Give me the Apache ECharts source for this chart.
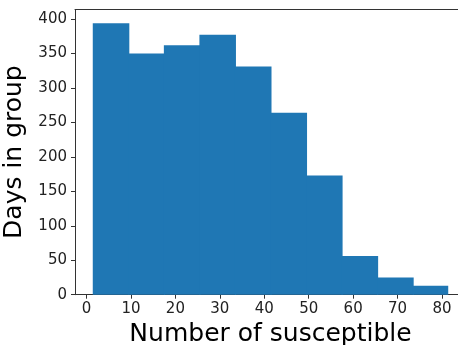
<!DOCTYPE html>
<html>
<head>
<meta charset="utf-8">
<script src="https://cdn.jsdelivr.net/npm/echarts@6/dist/echarts.min.js"></script>
<style>
  html, body { margin: 0; padding: 0; background: #ffffff; }
  #chart { width: 458px; height: 345px; }
</style>
</head>
<body>
<div id="chart"></div>
<script>
// Histogram bins: left/right edges and counts of days per bin
const binLeft  = [1.4, 9.4, 17.4, 25.4, 33.4, 41.4, 49.4, 57.4, 65.4, 73.4];
const binRight = [9.4, 17.4, 25.4, 33.4, 41.4, 49.4, 57.4, 65.4, 73.4, 81.4];
const daysInGroup = [394, 350, 362, 377, 331, 264, 173, 56, 25, 13];

const xTicks = [0, 10, 20, 30, 40, 50, 60, 70, 80];
const yTicks = [0, 50, 100, 150, 200, 250, 300, 350, 400];

const xTitle = 'Number of susceptible';
const yTitle = 'Days in group';

const barColor = '#1f77b4';
const axisColor = '#333333';
const font = 'DejaVu Sans';

const histData = binLeft.map((l, i) => [l, binRight[i], daysInGroup[i]]);

const chart = echarts.init(document.getElementById('chart'), null, { renderer: 'canvas' });

chart.setOption({
  animation: false,
  backgroundColor: '#ffffff',
  grid: { left: 75, top: 9.5, right: -8, bottom: 50.3, containLabel: false, outerBoundsMode: 'none' },
  xAxis: [{
    type: 'value',
    min: -2.6,
    max: 85.4,
    splitLine: { show: false },
    axisLine: { show: true, onZero: false, lineStyle: { color: axisColor, width: 1 } },
    axisTick: { show: true, length: 4, customValues: xTicks, lineStyle: { color: axisColor } },
    axisLabel: { customValues: xTicks, margin: 7, color: '#222', fontFamily: font, fontSize: 15 },
    name: xTitle,
    nameLocation: 'middle',
    nameGap: 22,
    nameTextStyle: { fontFamily: font, fontSize: 25, color: '#000', verticalAlign: 'top' }
  }, {
    type: 'value',
    position: 'top',
    min: -2.6,
    max: 85.4,
    splitLine: { show: false },
    axisLine: { show: true, onZero: false, lineStyle: { color: axisColor, width: 1 } },
    axisTick: { show: false },
    axisLabel: { show: false }
  }],
  yAxis: {
    type: 'value',
    min: 0,
    max: 413.8,
    splitLine: { show: false },
    axisLine: { show: true, onZero: false, lineStyle: { color: axisColor, width: 1 } },
    axisTick: { show: true, length: 4, customValues: yTicks, lineStyle: { color: axisColor } },
    axisLabel: { customValues: yTicks, margin: 8, color: '#222', fontFamily: font, fontSize: 15 },
    name: yTitle,
    nameLocation: 'middle',
    nameGap: 44,
    nameTextStyle: { fontFamily: font, fontSize: 25, color: '#000' }
  },
  series: [{
    type: 'custom',
    xAxisIndex: 0,
    data: histData,
    encode: { x: [0, 1], y: 2 },
    renderItem: function (params, api) {
      const p0 = api.coord([api.value(0), 0]);
      const p1 = api.coord([api.value(1), api.value(2)]);
      // overlap neighbours slightly so adjacent bins join without a seam
      const isLast = params.dataIndex === params.dataInsideLength - 1;
      const overlap = isLast ? 0 : 1;
      return {
        type: 'rect',
        shape: { x: p0[0], y: p1[1], width: p1[0] - p0[0] + overlap, height: p0[1] - p1[1] },
        style: { fill: barColor }
      };
    }
  }]
});
</script>
</body>
</html>
